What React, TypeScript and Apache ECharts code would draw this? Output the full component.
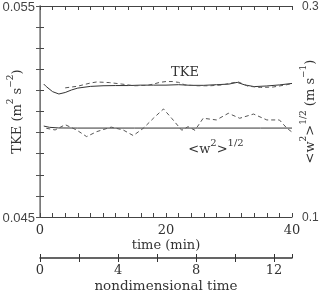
import React, { useEffect, useRef } from "react";
import * as echarts from "echarts";

const tkeTime = [0.6, 1, 2, 3, 4, 5, 6, 8, 10, 12, 14, 16, 18, 20, 22, 24, 26, 28, 30, 31.3, 32.5, 34, 36, 38, 40];
const tkeMean = [0.0513, 0.05118, 0.05094, 0.05083, 0.0509, 0.05102, 0.05111, 0.05119, 0.05122, 0.05123, 0.05123, 0.05125, 0.05125, 0.05125, 0.05127, 0.05124, 0.05124, 0.05127, 0.0513, 0.05138, 0.05126, 0.05118, 0.05121, 0.05126, 0.05133];

const tkeDashTime = [4, 6, 8, 9, 11, 13, 15, 17, 18, 19, 20, 21, 22, 23, 25, 27, 29, 30.5, 31.5, 33, 35, 37, 39, 40];
const tkeDash = [0.05112, 0.0512, 0.05135, 0.0514, 0.05137, 0.0513, 0.05122, 0.05124, 0.0513, 0.05138, 0.05142, 0.05142, 0.05138, 0.05126, 0.05122, 0.05122, 0.05126, 0.05136, 0.0514, 0.0512, 0.05114, 0.05116, 0.05126, 0.05132];

const wTime = [0.6, 1.5, 3, 6, 10, 15, 20, 25, 30, 35, 40];
const wMean = [0.1862, 0.185, 0.1844, 0.1843, 0.1843, 0.1843, 0.1843, 0.1843, 0.1843, 0.1843, 0.1843];

const wDashTime = [1, 2.4, 4, 5.8, 7.4, 9, 11.3, 13.2, 14.8, 16.4, 18, 19.6, 20.9, 22.5, 23.5, 24.6, 25.9, 28, 29.9, 31.7, 33.9, 36, 38, 39.2, 40];
const wDash = [0.1841, 0.1825, 0.1875, 0.1825, 0.1762, 0.1809, 0.1852, 0.1825, 0.1772, 0.1841, 0.1936, 0.2024, 0.1936, 0.1822, 0.1856, 0.1822, 0.1936, 0.192, 0.1983, 0.1936, 0.1976, 0.192, 0.192, 0.1841, 0.1805];

const timeLabels = [0, 20, 40];
const nondimLabels = [0, 4, 8, 12];
const nondimMax = 12.92;

const FONT = "DejaVu Serif";
const SANS = "Liberation Sans";
const TXT = "#333";

const pairs = (xs: number[], ys: number[]) => xs.map((x, i) => [x, ys[i]]);

export default function App() {
  const ref = useRef<HTMLDivElement>(null);
  useEffect(() => {
    if (!ref.current) return;
    const chart = echarts.init(ref.current, undefined, { renderer: "svg" });
    const near = (v: number, arr: number[], eps: number) => arr.some((a) => Math.abs(a - v) < eps);
    const richName = {
      b: { fontSize: 13, fontFamily: FONT, color: TXT, verticalAlign: "bottom" as const, lineHeight: 18 },
      s: { fontSize: 9, fontFamily: FONT, color: TXT, verticalAlign: "top" as const, lineHeight: 18 },
    };
    chart.setOption({
      animation: false,
      grid: [
        { left: 40, right: 28, top: 6, height: 211, outerBoundsMode: "none", containLabel: false },
        { left: 40, right: 28, top: 257, height: 1, outerBoundsMode: "none", containLabel: false },
        { left: 40, right: 28, top: 257, height: 1, outerBoundsMode: "none", containLabel: false },
      ],
      xAxis: [
        {
          gridIndex: 0, type: "value", min: 0, max: 40, interval: 2, position: "bottom",
          axisLine: { lineStyle: { color: "#444", width: 1 } },
          axisTick: { inside: true, length: 4, lineStyle: { color: "#444" } },
          splitLine: { show: false },
          axisLabel: {
            margin: 6, fontSize: 13, lineHeight: 13, fontFamily: FONT, color: TXT,
            formatter: (v: number) => (near(v, timeLabels, 1e-6) ? String(v) : ""),
          },
          name: "time (min)", nameLocation: "middle", nameGap: 20, nameMoveOverlap: false,
          nameTextStyle: { fontSize: 13, lineHeight: 14, fontFamily: FONT, color: TXT },
        },
        {
          gridIndex: 0, type: "value", min: 0, max: 40, interval: 2, position: "top",
          axisLine: { lineStyle: { color: "#444", width: 1 } },
          axisTick: { inside: true, length: 4, lineStyle: { color: "#444" } },
          splitLine: { show: false }, axisLabel: { show: false },
        },
        {
          gridIndex: 1, type: "value", min: 0, max: nondimMax, interval: 2, position: "bottom",
          axisLine: { lineStyle: { color: "#333", width: 1.5 } },
          axisTick: { inside: false, length: 4, lineStyle: { color: "#333" } },
          splitLine: { show: false },
          axisLabel: {
            margin: 5, fontSize: 13, lineHeight: 13, fontFamily: FONT, color: TXT, showMaxLabel: false,
            formatter: (v: number) => (near(v, nondimLabels, 1e-6) ? String(v) : ""),
          },
          name: "nondimensional time", nameLocation: "middle", nameGap: 20, nameMoveOverlap: false,
          nameTextStyle: { fontSize: 13.5, lineHeight: 14, fontFamily: FONT, color: TXT },
        },
        {
          gridIndex: 2, type: "value", min: 0, max: nondimMax, interval: 2, position: "bottom",
          axisLine: { show: false },
          axisTick: { inside: true, length: 4, lineStyle: { color: "#333" } },
          splitLine: { show: false }, axisLabel: { show: false },
        },
      ],
      yAxis: [
        {
          gridIndex: 0, type: "value", min: 0.045, max: 0.055, interval: 0.001, position: "left",
          axisLine: { show: true, lineStyle: { color: "#444", width: 1 } },
          axisTick: { show: true, inside: true, length: 4, lineStyle: { color: "#444" } },
          splitLine: { show: false },
          axisLabel: {
            margin: 5, fontSize: 13, fontFamily: SANS, color: "#444",
            formatter: (v: number) => (Math.abs(v - 0.045) < 1e-7 ? "0.045" : Math.abs(v - 0.055) < 1e-7 ? "0.055" : ""),
          },
          name: "{b|TKE (m}{s|2}{b| s}{s|−2}{b|)}", nameLocation: "middle", nameGap: 17, nameRotate: 90,
          nameMoveOverlap: false,
          nameTextStyle: { rich: richName },
        },
        {
          gridIndex: 0, type: "value", min: 0.1, max: 0.3, interval: 0.02, position: "right",
          axisLine: { show: true, lineStyle: { color: "#888", width: 1.6 } },
          axisTick: { show: true, inside: true, length: 4, lineStyle: { color: "#555" } },
          splitLine: { show: false },
          axisLabel: {
            margin: 10, fontSize: 12, fontFamily: SANS, color: "#444",
            formatter: (v: number) => (Math.abs(v - 0.1) < 1e-7 ? "0.1" : Math.abs(v - 0.3) < 1e-7 ? "0.3" : ""),
          },
          name: "{b|<w}{s|2}{b|>}{s|1/2}{b| (m s}{s|−1}{b|)}", nameLocation: "middle", nameGap: 6, nameRotate: 90,
          nameMoveOverlap: false,
          nameTextStyle: { rich: richName },
        },
        { gridIndex: 1, type: "value", show: false, min: 0, max: 1 },
        { gridIndex: 2, type: "value", show: false, min: 0, max: 1 },
      ],
      series: [
        {
          type: "line", xAxisIndex: 0, yAxisIndex: 0, data: pairs(tkeTime, tkeMean), showSymbol: false,
          lineStyle: { color: "#333", width: 1 },
        },
        {
          type: "line", xAxisIndex: 0, yAxisIndex: 0, data: pairs(tkeDashTime, tkeDash), showSymbol: false,
          lineStyle: { color: "#555", width: 1, type: [4, 3] },
        },
        {
          type: "line", xAxisIndex: 0, yAxisIndex: 1, data: pairs(wTime, wMean), showSymbol: false,
          lineStyle: { color: "#333", width: 1 },
        },
        {
          type: "line", xAxisIndex: 0, yAxisIndex: 1, data: pairs(wDashTime, wDash), showSymbol: false,
          lineStyle: { color: "#555", width: 1, type: [4, 3] },
        },
      ],
      graphic: [
        {
          type: "text", x: 185, y: 71,
          style: { text: "TKE", fontSize: 13, fontFamily: FONT, fill: TXT, align: "center", verticalAlign: "middle" },
        },
        {
          type: "text", x: 216, y: 146,
          style: {
            text: "{b|<w}{s|2}{b|>}{s|1/2}",
            align: "center", verticalAlign: "middle",
            rich: {
              b: { fontSize: 13, fontFamily: FONT, fill: TXT, verticalAlign: "bottom", lineHeight: 18 },
              s: { fontSize: 10, fontFamily: FONT, fill: TXT, verticalAlign: "top", lineHeight: 18 },
            },
          },
        },
      ],
    });
    return () => chart.dispose();
  }, []);
  return <div ref={ref} style={{ position: "fixed", left: 0, top: 0, width: 320, height: 292 }} />;
}
